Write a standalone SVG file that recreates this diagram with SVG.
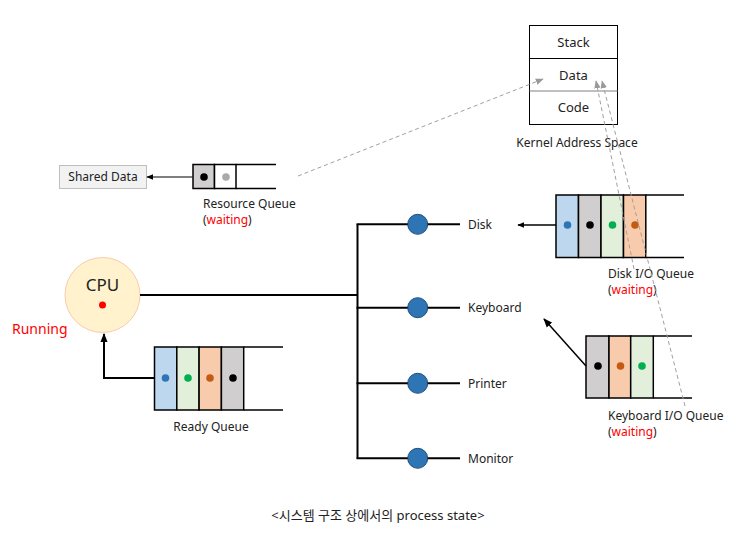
<svg xmlns="http://www.w3.org/2000/svg" width="746" height="542" viewBox="0 0 746 542">
<defs>
<marker id="ah" viewBox="0 0 10 10" refX="9" refY="5" markerWidth="7" markerHeight="7" markerUnits="userSpaceOnUse" orient="auto"><path d="M0,1 L10,5 L0,9 z" fill="#000"/></marker>
<marker id="ahb" viewBox="0 0 10 10" refX="9" refY="5" markerWidth="9" markerHeight="9" markerUnits="userSpaceOnUse" orient="auto"><path d="M0,1 L10,5 L0,9 z" fill="#000"/></marker>
<marker id="ahg" viewBox="0 0 10 10" refX="9" refY="5" markerWidth="8" markerHeight="8" markerUnits="userSpaceOnUse" orient="auto"><path d="M0,1 L10,5 L0,9 z" fill="#999"/></marker>
<style>
text{font-family:"Noto Sans","Noto Sans CJK KR",sans-serif;font-size:12px;fill:#222}
text.k{font-size:13px}
text.cpu{font-size:17px}
text.run{font-size:14px;fill:#ff0000}
text.cap{font-size:13px}
.red{fill:#ff0000}
.cell{stroke:#000;stroke-width:1.5}
.blue{fill:#bdd7ee}.gray{fill:#d0cece}.green{fill:#e2efda}.orange{fill:#f8cbad}
.ql{stroke:#000;stroke-width:1.5;fill:none}
.dash{stroke:#a0a0a0;stroke-width:1;stroke-dasharray:4 3;fill:none}
.bus{stroke:#000;stroke-width:2;fill:none}
.dev{fill:#2e75b6;stroke:#1f4e79;stroke-width:1}
</style>
</defs>

<g id="kernel">
<rect x="529.5" y="25.5" width="88" height="99" fill="#fff" stroke="#000" stroke-width="1"/>
<line x1="529.5" y1="58.5" x2="617.5" y2="58.5" stroke="#000"/>
<line x1="529.5" y1="91" x2="617.5" y2="91" stroke="#808080"/>
<text x="573.5" y="47" text-anchor="middle" class="k">Stack</text>
<text x="573.5" y="80" text-anchor="middle" class="k">Data</text>
<text x="573.5" y="112" text-anchor="middle" class="k">Code</text>
<text x="577" y="147" text-anchor="middle">Kernel Address Space</text>
</g>

<g id="shared-data">
<rect x="59.5" y="165.5" width="87" height="23" fill="#f2f2f2" stroke="#bfbfbf"/>
<text x="103" y="181" text-anchor="middle">Shared Data</text>
</g>

<g id="resource-queue">
<rect x="193" y="164.5" width="21.5" height="24" class="cell gray"/>
<rect x="214.5" y="164.5" width="21.5" height="24" class="cell" fill="#fff"/>
<line x1="236" y1="164.5" x2="276" y2="164.5" class="ql"/>
<line x1="236" y1="188.5" x2="276" y2="188.5" class="ql"/>
<circle cx="204" cy="177" r="3.8" fill="#000"/>
<circle cx="226" cy="177" r="3.8" fill="#aaa"/>
<text x="203" y="208">Resource Queue</text>
<text x="203" y="224">(<tspan class="red">waiting</tspan>)</text>
</g>

<g id="cpu">
<circle cx="102.5" cy="295" r="37.5" fill="#fff2cc" stroke="#f8cbad" stroke-width="1"/>
<text x="102.5" y="291" text-anchor="middle" class="cpu">CPU</text>
<circle cx="102.5" cy="305" r="3.5" fill="#ff0000"/>
<text x="12" y="334" class="run">Running</text>
</g>

<g id="ready-queue">
<rect x="154.5" y="347" width="22.3" height="63" class="cell blue"/>
<rect x="176.8" y="347" width="22.3" height="63" class="cell green"/>
<rect x="199.1" y="347" width="22.3" height="63" class="cell orange"/>
<rect x="221.4" y="347" width="22.3" height="63" class="cell gray"/>
<line x1="243.7" y1="347" x2="283" y2="347" class="ql"/>
<line x1="243.7" y1="410" x2="283" y2="410" class="ql"/>
<circle cx="165.5" cy="378" r="3.8" fill="#2e75b6"/>
<circle cx="188" cy="378" r="3.8" fill="#00b050"/>
<circle cx="210" cy="378" r="3.8" fill="#c55a11"/>
<circle cx="233" cy="378" r="3.8" fill="#000"/>
<text x="211" y="431" text-anchor="middle">Ready Queue</text>
</g>

<g id="disk-queue">
<rect x="556" y="195" width="22.5" height="62.5" class="cell blue"/>
<rect x="578.5" y="195" width="22.5" height="62.5" class="cell gray"/>
<rect x="601" y="195" width="22.5" height="62.5" class="cell green"/>
<rect x="623.5" y="195" width="22.3" height="62.5" class="cell orange"/>
<line x1="645.8" y1="195" x2="684" y2="195" class="ql"/>
<line x1="645.8" y1="257.5" x2="684" y2="257.5" class="ql"/>
<circle cx="567.5" cy="225" r="3.8" fill="#2e75b6"/>
<circle cx="590" cy="225" r="3.8" fill="#000"/>
<circle cx="612.5" cy="225" r="3.8" fill="#00b050"/>
<circle cx="635" cy="225" r="3.8" fill="#c55a11"/>
<text x="608" y="278">Disk I/O Queue</text>
<text x="608" y="294">(<tspan class="red">waiting</tspan>)</text>
</g>

<g id="keyboard-queue">
<rect x="586" y="336" width="23" height="62" class="cell gray"/>
<rect x="609" y="336" width="21.7" height="62" class="cell orange"/>
<rect x="630.7" y="336" width="22.6" height="62" class="cell green"/>
<line x1="653.3" y1="336" x2="692" y2="336" class="ql"/>
<line x1="653.3" y1="398" x2="692" y2="398" class="ql"/>
<circle cx="598" cy="366" r="3.8" fill="#000"/>
<circle cx="620.5" cy="366" r="3.8" fill="#c55a11"/>
<circle cx="642" cy="366" r="3.8" fill="#00b050"/>
<text x="608" y="420">Keyboard I/O Queue</text>
<text x="608" y="436">(<tspan class="red">waiting</tspan>)</text>
</g>

<g id="devices">
<circle cx="417.7" cy="224.3" r="10" class="dev"/>
<circle cx="417.7" cy="307.7" r="10" class="dev"/>
<circle cx="417.7" cy="383.3" r="10" class="dev"/>
<circle cx="417.7" cy="458.3" r="10" class="dev"/>
<text x="468" y="228.5">Disk</text>
<text x="468" y="312">Keyboard</text>
<text x="468" y="388">Printer</text>
<text x="468" y="463">Monitor</text>
</g>

<g id="connectors">
<line x1="140" y1="295" x2="357.5" y2="295" class="bus"/>
<line x1="357.5" y1="224.3" x2="357.5" y2="458.3" class="bus"/>
<line x1="356.5" y1="224.3" x2="407.7" y2="224.3" class="bus"/>
<line x1="427.7" y1="224.3" x2="460" y2="224.3" class="bus"/>
<line x1="356.5" y1="307.7" x2="407.7" y2="307.7" class="bus"/>
<line x1="427.7" y1="307.7" x2="460" y2="307.7" class="bus"/>
<line x1="356.5" y1="383.3" x2="407.7" y2="383.3" class="bus"/>
<line x1="427.7" y1="383.3" x2="460" y2="383.3" class="bus"/>
<line x1="356.5" y1="458.3" x2="407.7" y2="458.3" class="bus"/>
<line x1="427.7" y1="458.3" x2="460" y2="458.3" class="bus"/>
<polyline points="154.5,378 104,378 104,334" fill="none" stroke="#000" stroke-width="2" marker-end="url(#ahb)"/>
<line x1="192.5" y1="177" x2="147" y2="177" stroke="#000" stroke-width="1" marker-end="url(#ah)"/>
<line x1="556" y1="225" x2="518" y2="225" stroke="#000" stroke-width="1.3" marker-end="url(#ah)"/>
<line x1="586" y1="366" x2="544" y2="319" stroke="#000" stroke-width="1.5" marker-end="url(#ahb)"/>
<line x1="298" y1="176" x2="543" y2="79" class="dash" marker-end="url(#ahg)"/>
<line x1="634" y1="269" x2="596" y2="81" class="dash" marker-end="url(#ahg)"/>
<line x1="685" y1="406" x2="602" y2="81" class="dash" marker-end="url(#ahg)"/>
</g>

<text x="378" y="520" text-anchor="middle" class="cap">&lt;시스템 구조 상에서의 process state&gt;</text>
</svg>
